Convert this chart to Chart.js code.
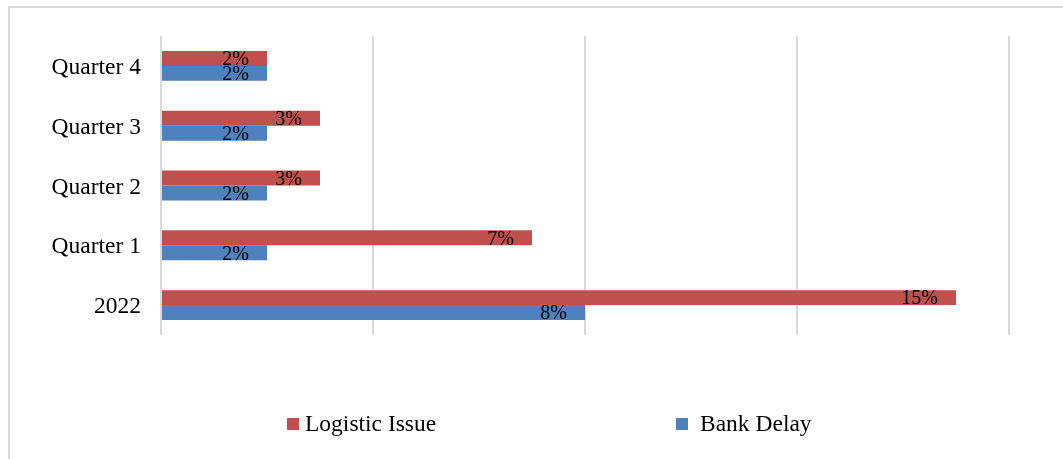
<!DOCTYPE html>
<html>
<head>
<meta charset="utf-8">
<script src="https://cdn.jsdelivr.net/npm/chart.js@4.4.1/dist/chart.umd.min.js"></script>
<style>
  html, body { margin: 0; padding: 0; background: #fff; }
  #wrap { position: relative; width: 1063px; height: 459px; overflow: hidden; }
  #frame { position: absolute; left: 8px; top: 6px; width: 1200px; height: 600px;
           border-top: 2px solid #d9d9d9; border-left: 2px solid #d9d9d9; box-sizing: border-box; }
  canvas { position: absolute; left: 0; top: 0; }
</style>
</head>
<body>
<div id="wrap">
  <div id="frame"></div>
  <canvas id="c" width="1063" height="459"></canvas>
</div>
<script>
const categories = ['Quarter 4', 'Quarter 3', 'Quarter 2', 'Quarter 1', '2022'];
const logisticIssue = [2, 3, 3, 7, 15];
const bankDelay = [2, 2, 2, 2, 8];
const seriesNames = ['Logistic Issue', 'Bank Delay'];
const seriesColors = ['#C0504D', '#4F81BD'];

const serif = "'Liberation Serif', 'Times New Roman', serif";

const dataLabels = {
  id: 'dataLabels',
  afterDatasetsDraw(chart) {
    const ctx = chart.ctx;
    ctx.save();
    ctx.font = '20px ' + serif;
    ctx.fillStyle = '#000';
    ctx.textAlign = 'right';
    ctx.textBaseline = 'middle';
    chart.data.datasets.forEach((ds, i) => {
      const meta = chart.getDatasetMeta(i);
      meta.data.forEach((el, j) => {
        ctx.fillText(ds.data[j] + '%', el.x - 18, el.y + 1.5);
      });
    });
    ctx.restore();
  }
};

const customLegend = {
  id: 'customLegend',
  afterDraw(chart) {
    const ctx = chart.ctx;
    const items = [{ box: 287, text: 305 }, { box: 676, text: 700 }];
    ctx.save();
    ctx.font = '23.5px ' + serif;
    ctx.textBaseline = 'middle';
    ctx.textAlign = 'left';
    chart.data.datasets.forEach((ds, i) => {
      const it = items[i];
      ctx.fillStyle = ds.backgroundColor;
      ctx.fillRect(it.box, 418, 12, 12);
      ctx.fillStyle = '#000';
      ctx.fillText(ds.label, it.text, 425);
    });
    ctx.restore();
  }
};

new Chart(document.getElementById('c'), {
  type: 'bar',
  data: {
    labels: categories,
    datasets: [
      { label: seriesNames[0], data: logisticIssue, backgroundColor: seriesColors[0], borderWidth: 0 },
      { label: seriesNames[1], data: bankDelay, backgroundColor: seriesColors[1], borderWidth: 0 }
    ]
  },
  options: {
    indexAxis: 'y',
    responsive: false,
    animation: false,
    events: [],
    layout: { padding: { left: 0, right: 54, top: 36, bottom: 124 } },
    datasets: { bar: { categoryPercentage: 0.5, barPercentage: 1.0 } },
    plugins: { legend: { display: false }, tooltip: { enabled: false } },
    scales: {
      x: {
        min: 0, max: 16,
        ticks: { display: false, stepSize: 4 },
        grid: { color: '#d9d9d9', lineWidth: 2, drawTicks: false },
        border: { display: false },
        afterFit(scale) { scale.height = 0; }
      },
      y: {
        ticks: { color: '#000', font: { family: serif, size: 23.5 }, padding: 20, labelOffset: 2 },
        grid: { display: false, drawTicks: false },
        border: { display: false },
        afterFit(scale) { scale.width = 161; }
      }
    }
  },
  plugins: [dataLabels, customLegend]
});
</script>
</body>
</html>
